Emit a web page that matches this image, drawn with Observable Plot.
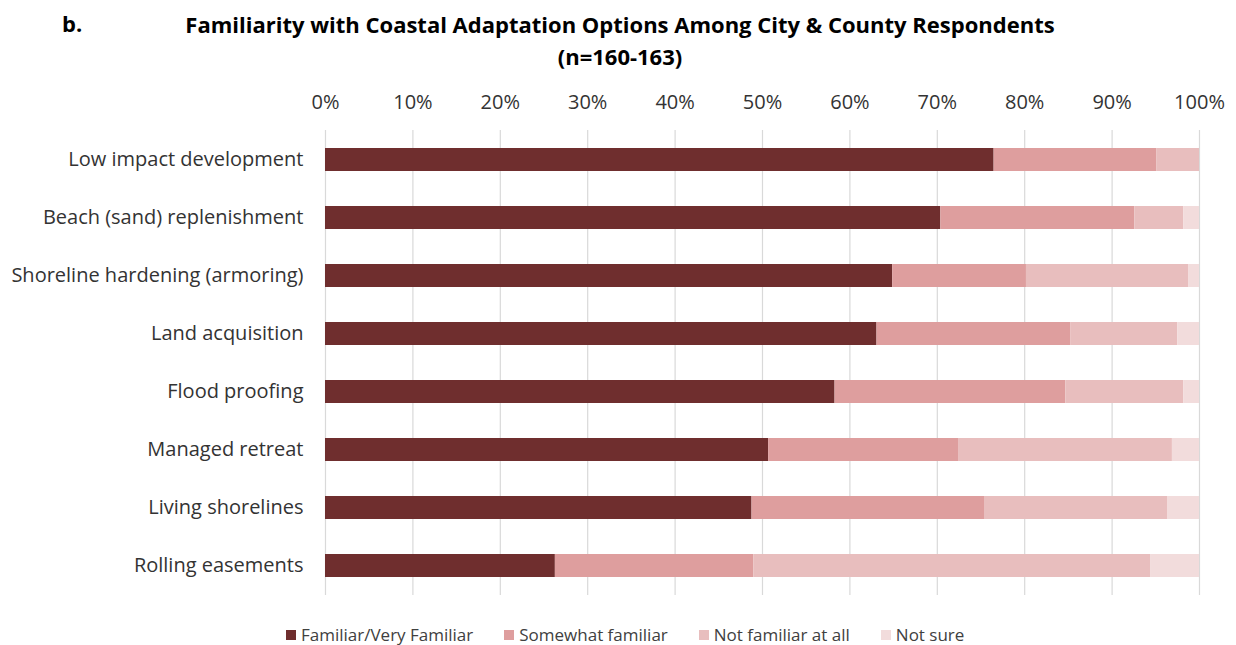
<!DOCTYPE html>
<html>
<head>
<meta charset="utf-8">
<script src="https://cdn.jsdelivr.net/npm/d3@7"></script>
<script src="https://cdn.jsdelivr.net/npm/@observablehq/plot@0.6"></script>
<style>
  body { margin: 0; background: #fff; font-family: "Open Sans", sans-serif; color: #000; }
  #wrap { position: relative; width: 1236px; height: 645px; }
  #label-b { position: absolute; left: 62px; top: 8px; font-weight: 700; font-size: 22px; }
  #title { position: absolute; left: 0; width: 1240px; top: 8px; text-align: center; font-weight: 700; font-size: 22px; line-height: 32px; }
  #chart { position: absolute; left: 0; top: 75px; }
  #legend { position: absolute; left: 286px; top: 623px; display: flex; font-size: 17px; color: #404040; }
  #legend .item { display: flex; align-items: center; margin-right: 31px; }
  #legend .sw { width: 10px; height: 10px; margin-right: 5px; }
</style>
</head>
<body>
<div id="wrap">
  <div id="label-b">b.</div>
  <div id="title">Familiarity with Coastal Adaptation Options Among City &amp; County Respondents<br>(n=160-163)</div>
  <div id="chart"></div>
  <div id="legend"></div>
</div>
<script>
const items = [
  "Low impact development",
  "Beach (sand) replenishment",
  "Shoreline hardening (armoring)",
  "Land acquisition",
  "Flood proofing",
  "Managed retreat",
  "Living shorelines",
  "Rolling easements"
];
const categories = ["Familiar/Very Familiar", "Somewhat familiar", "Not familiar at all", "Not sure"];
const colors = ["#6F2E2E", "#DE9E9E", "#E8BEBE", "#F2DCDC"];
const familiar      = [76.5, 70.4, 64.9, 63.1, 58.3, 50.7, 48.8, 26.3];
const somewhat      = [18.6, 22.2, 15.3, 22.2, 26.4, 21.8, 26.6, 22.7];
const notFamiliar   = [ 4.9,  5.6, 18.6, 12.2, 13.5, 24.4, 21.0, 45.4];
const notSure       = [ 0.0,  1.8,  1.2,  2.5,  1.8,  3.1,  3.6,  5.6];
const xTicks = [0, 10, 20, 30, 40, 50, 60, 70, 80, 90, 100];

const series = [familiar, somewhat, notFamiliar, notSure];
const table = [];
items.forEach((item, i) => {
  categories.forEach((cat, j) => {
    table.push({item, category: cat, value: series[j][i]});
  });
});

const chart = Plot.plot({
  width: 1236,
  height: 545,
  marginTop: 55,
  marginBottom: 25,
  marginLeft: 325,
  marginRight: 37,
  style: {fontFamily: "Open Sans, sans-serif", fontSize: "20px", color: "#333", background: "#fff", overflow: "visible"},
  x: {domain: [0, 100], label: null, axis: null},
  y: {domain: items, label: null, paddingInner: 0.6, paddingOuter: 0.3, axis: null},
  color: {domain: categories, range: colors},
  marks: [
    Plot.gridX(xTicks, {stroke: "#d9d9d9", strokeOpacity: 1, strokeWidth: 1.2}),
    Plot.axisX({anchor: "top", ticks: xTicks, tickFormat: d => d + "%", tickSize: 0, tickPadding: 22, fontSize: 20, fill: "#333", label: null}),
    Plot.axisY({anchor: "left", tickSize: 0, tickPadding: 22, fontSize: 20, fill: "#333", label: null}),
    Plot.barX(table, {x: "value", y: "item", fill: "category", order: categories})
  ]
});
document.getElementById("chart").appendChild(chart);

const legend = document.getElementById("legend");
categories.forEach((c, i) => {
  const it = document.createElement("div");
  it.className = "item";
  const sw = document.createElement("div");
  sw.className = "sw";
  sw.style.background = colors[i];
  const t = document.createElement("span");
  t.textContent = c;
  it.appendChild(sw);
  it.appendChild(t);
  legend.appendChild(it);
});
</script>
</body>
</html>
